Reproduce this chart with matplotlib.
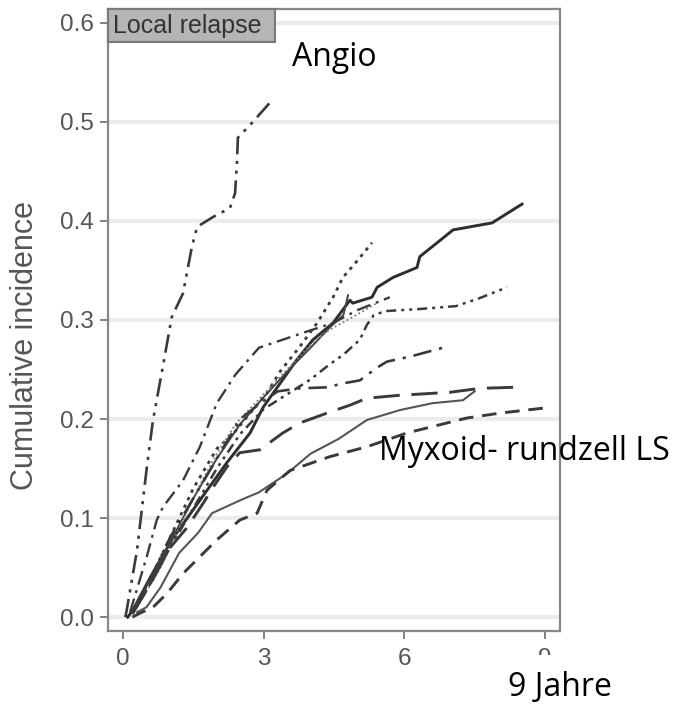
import numpy as np
import matplotlib
matplotlib.use("Agg")
import matplotlib.pyplot as plt
from matplotlib.patches import Rectangle

# cumulative incidence curves, (years, incidence)
angio_t = [0.05, 0.09, 0.30, 0.51, 0.64, 0.85, 1.04, 1.28, 1.47, 1.58, 1.92, 2.28, 2.39, 2.43, 2.45, 2.77, 3.18]
angio_y = [0.0, 0.01, 0.068, 0.152, 0.199, 0.253, 0.303, 0.327, 0.374, 0.394, 0.404, 0.413, 0.428, 0.459, 0.484, 0.500, 0.522]

solid_t = [0.1, 0.21, 0.58, 1.04, 1.64, 2.2, 2.71, 2.99, 3.35, 3.71, 4.05, 4.48, 4.84, 4.90, 5.31, 5.42, 5.76, 6.27, 6.33, 6.70, 7.04, 7.87, 8.51]
solid_y = [0.0, 0.007, 0.040, 0.078, 0.118, 0.155, 0.186, 0.212, 0.236, 0.260, 0.280, 0.297, 0.320, 0.317, 0.323, 0.333, 0.343, 0.353, 0.364, 0.378, 0.391, 0.398, 0.417]

short_t = [0.2, 0.6, 1.0, 1.5, 2.0, 2.5, 3.0, 3.5, 4.0, 4.4, 4.7, 4.8]
short_y = [0.005, 0.04, 0.075, 0.12, 0.16, 0.195, 0.222, 0.248, 0.272, 0.292, 0.305, 0.325]

dot_t = [0.2, 0.6, 1.0, 1.5, 2.0, 2.35, 2.71, 3.07, 3.35, 3.77, 4.14, 4.48, 4.69, 5.0, 5.31]
dot_y = [0.005, 0.04, 0.08, 0.13, 0.17, 0.185, 0.206, 0.226, 0.248, 0.273, 0.297, 0.323, 0.343, 0.36, 0.378]

fine_t = [0.3, 0.8, 1.2, 1.6, 2.0, 2.4, 2.8, 3.2, 3.6, 4.0, 4.4, 4.9, 5.45]
fine_y = [0.01, 0.05, 0.09, 0.13, 0.165, 0.195, 0.215, 0.235, 0.255, 0.275, 0.29, 0.303, 0.318]

kink_t = [0.15, 0.5, 0.72, 0.85, 1.28, 1.64, 2.0, 2.4, 2.9, 3.4, 3.9, 4.48, 5.0, 5.69]
kink_y = [0.005, 0.06, 0.098, 0.111, 0.138, 0.172, 0.216, 0.245, 0.272, 0.280, 0.288, 0.297, 0.31, 0.323]

ddot_t = [0.2, 0.6, 1.0, 1.5, 2.0, 2.5, 3.0, 3.5, 4.0, 4.4, 4.7, 5.05, 5.2, 5.35, 5.6, 6.3, 7.1, 7.6, 8.19]
ddot_y = [0.005, 0.035, 0.07, 0.11, 0.15, 0.185, 0.21, 0.225, 0.24, 0.255, 0.265, 0.28, 0.295, 0.305, 0.309, 0.311, 0.314, 0.322, 0.333]

dash_dot_t = [0.2, 0.6, 1.0, 1.5, 2.0, 2.5, 2.9, 3.3, 3.77, 4.35, 4.69, 5.05, 5.42, 5.63, 6.12, 6.9]
dash_dot_y = [0.004, 0.04, 0.08, 0.12, 0.16, 0.2, 0.215, 0.228, 0.231, 0.232, 0.236, 0.239, 0.252, 0.258, 0.263, 0.273]

long_t = [0.2, 0.6, 1.0, 1.36, 1.71, 1.92, 2.22, 2.49, 2.92, 3.41, 3.77, 4.35, 4.84, 5.2, 5.9, 6.97, 7.61, 8.32]
long_y = [0.003, 0.035, 0.07, 0.09, 0.115, 0.131, 0.152, 0.166, 0.169, 0.186, 0.196, 0.206, 0.214, 0.221, 0.224, 0.227, 0.231, 0.232]

thin_t = [0.3, 0.5, 0.8, 1.2, 1.6, 1.9, 2.5, 2.9, 3.5, 4.0, 4.6, 5.2, 5.9, 6.6, 7.25, 7.5]
thin_y = [0.005, 0.01, 0.03, 0.065, 0.085, 0.105, 0.118, 0.126, 0.145, 0.165, 0.18, 0.199, 0.209, 0.216, 0.219, 0.228]

myx_t = [0.2, 0.36, 0.64, 0.94, 1.28, 1.64, 2.0, 2.49, 2.86, 3.07, 3.56, 4.41, 5.2, 6.06, 7.33, 8.04, 8.96]
myx_y = [0.0, 0.004, 0.010, 0.024, 0.044, 0.061, 0.078, 0.098, 0.105, 0.128, 0.148, 0.162, 0.172, 0.186, 0.201, 0.206, 0.211]

y_ticks = [0.0, 0.1, 0.2, 0.3, 0.4, 0.5, 0.6]
x_ticks = [0, 3, 6, 9]

W, H = 676, 709
fig = plt.figure(figsize=(W / 100, H / 100), dpi=100)
ax = fig.add_axes([108 / W, 1 - 631 / H, 452 / W, 622 / H])

ax.set_xlim(-0.32, 9.32)
ax.set_ylim(-0.014, 0.614)

ax.yaxis.grid(True, color="#ececec", lw=3)
ax.set_axisbelow(True)

ink = "#3a3a3a"
ax.plot(angio_t, angio_y, color=ink, lw=1.9, dashes=(7, 2.5, 1.2, 2.5, 1.2, 2.5))
ax.plot(solid_t, solid_y, color="#2e2e2e", lw=2.1)
ax.plot(short_t, short_y, color="#444444", lw=1.4)
ax.plot(dot_t, dot_y, color=ink, lw=2.0, dashes=(1.2, 1.8))
ax.plot(fine_t, fine_y, color="#777777", lw=1.3, dashes=(1, 1.5))
ax.plot(kink_t, kink_y, color=ink, lw=1.7, dashes=(6, 2.5, 1.2, 2.5))
ax.plot(ddot_t, ddot_y, color=ink, lw=1.8, dashes=(4, 2, 1.2, 2, 1.2, 2))
ax.plot(dash_dot_t, dash_dot_y, color=ink, lw=1.9, dashes=(7, 3, 1.2, 3))
ax.plot(long_t, long_y, color=ink, lw=2.1, dashes=(9, 4))
ax.plot(thin_t, thin_y, color="#555555", lw=1.5)
ax.plot(myx_t, myx_y, color=ink, lw=2.1, dashes=(5, 3))

for s in ax.spines.values():
    s.set_color("#888888")
    s.set_linewidth(1.6)

ax.set_yticks(y_ticks)
ax.set_yticklabels(["%.1f" % v for v in y_ticks])
ax.set_xticks(x_ticks)
ax.tick_params(direction="out", length=6, width=1.3, color="#777777",
               labelcolor="#555555", labelsize=17.5)
ax.tick_params(axis="y", pad=4)
ax.tick_params(axis="x", pad=6)
for lab in ax.get_xticklabels() + ax.get_yticklabels():
    lab.set_family("Liberation Sans")

fig.text(25 / W, 1 - 345 / H, "Cumulative incidence", rotation=90, ha="center", va="center",
         fontsize=22, color="#555555", family="Liberation Sans")

# strip label in upper left corner
fig.patches.append(Rectangle((108 / W, 1 - 42 / H), 167 / W, 33 / H, transform=fig.transFigure,
                             facecolor="#b5b5b5", edgecolor="#7a7a7a", lw=1.5, zorder=5))
fig.text(113 / W, 1 - 26 / H, "Local relapse", ha="left", va="center", fontsize=18,
         color="#333333", family="Liberation Sans", zorder=6)

# overlaid annotations
fig.text(334 / W, 1 - 57 / H, "Angio", ha="center", va="center", fontsize=23,
         color="black", family="Open Sans")
fig.text(379 / W, 1 - 452 / H, "Myxoid- rundzell LS", ha="left", va="center", fontsize=23,
         color="black", family="Open Sans")

# pasted white label box that hides most of the "9" tick label
fig.patches.append(Rectangle((487 / W, 0), 146 / W, (709 - 655) / H, transform=fig.transFigure,
                             facecolor="white", edgecolor="none", zorder=7))
fig.text(560 / W, 1 - 688 / H, "9 Jahre", ha="center", va="center", fontsize=23,
         color="black", family="Open Sans", zorder=8)

fig.savefig("out.png", dpi=100)
